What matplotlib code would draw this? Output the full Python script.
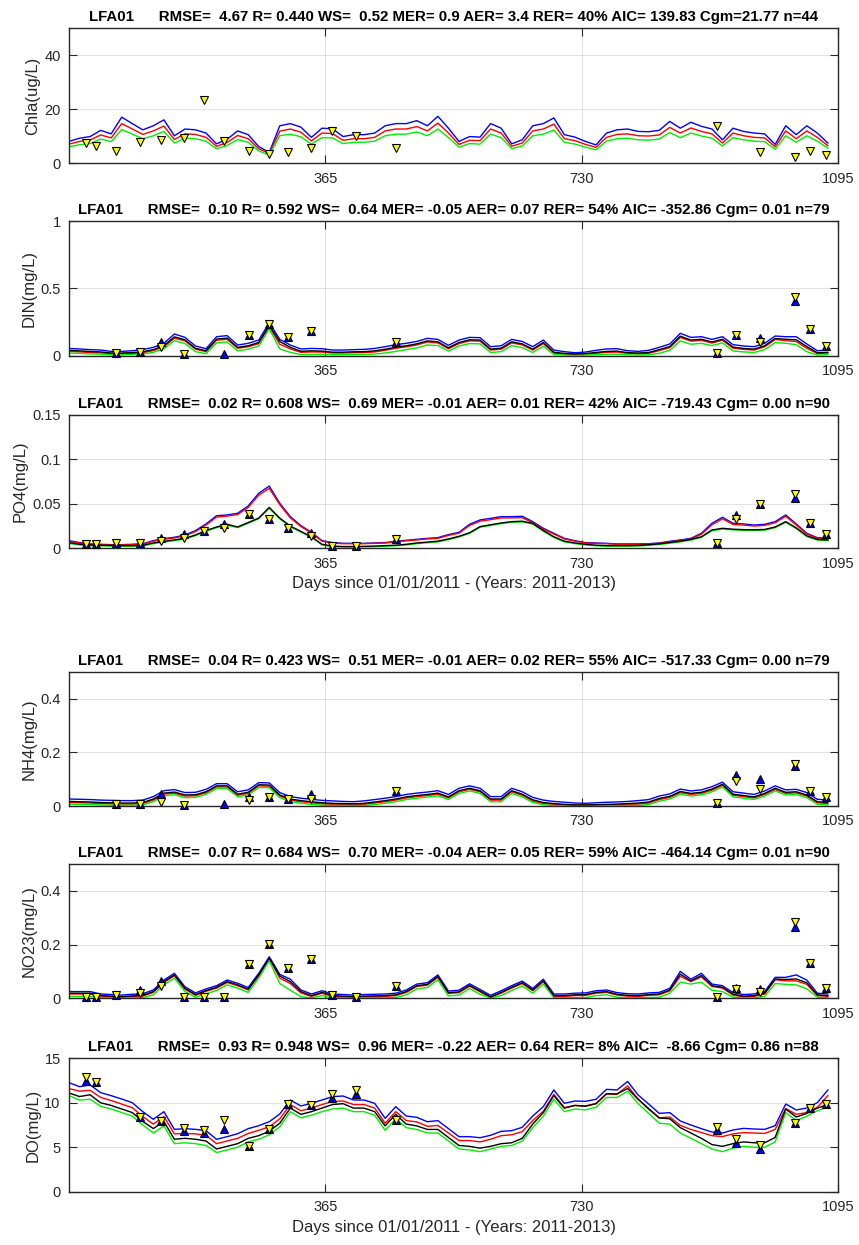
import numpy as np
import matplotlib
matplotlib.use("Agg")
import matplotlib.pyplot as plt
from matplotlib.ticker import FormatStrFormatter

plt.rcParams['font.family'] = ['Liberation Sans', 'DejaVu Sans']

# --- model output, sampled every 15 days (day 0 .. 1080) ---
days = np.arange(0, 1081, 15)

chla_blue = [8.1, 9.3, 9.9, 12.2, 10.9, 17.1, 14.7, 12.4, 13.9, 16.1, 10.2, 12.7, 12.4, 11.2, 7.2, 8.9, 12.0, 10.6, 6.2, 4.0,
             13.9, 14.7, 13.4, 9.6, 13.0, 12.8, 9.9, 10.6, 10.6, 11.2, 13.9, 14.7, 14.7, 15.8, 13.9,
             17.4, 13.0, 8.1, 9.9, 9.7, 14.7, 13.0, 7.2, 8.7, 13.9, 14.7, 16.8, 10.6, 9.7, 8.1, 6.8, 11.2, 12.4, 12.7, 11.8,
             11.7, 12.2, 15.5, 13.0, 15.2, 13.7, 12.7, 8.7, 13.0, 11.8, 11.2, 10.9, 7.0, 13.9, 10.6, 13.9, 11.2, 7.5]
chla_red = [7.1, 8.1, 8.6, 10.5, 9.4, 14.7, 12.7, 10.7, 12.0, 13.8, 8.8, 10.9, 10.7, 9.6, 6.3, 7.7, 10.3, 9.1, 5.4, 3.6,
            11.9, 12.7, 11.5, 8.3, 11.2, 11.0, 8.5, 9.1, 9.1, 9.6, 12.0, 12.7, 12.7, 13.6, 12.0,
            14.9, 11.2, 7.0, 8.5, 8.4, 12.7, 11.2, 6.3, 7.5, 12.0, 12.7, 14.5, 9.1, 8.4, 7.0, 5.9, 9.6, 10.7, 10.9, 10.2,
            10.1, 10.5, 13.3, 11.2, 13.1, 11.8, 10.9, 7.5, 11.2, 10.2, 9.6, 9.4, 6.1, 12.0, 9.1, 12.0, 9.6, 6.5]
chla_green = [6.1, 6.9, 7.3, 9.0, 8.0, 12.5, 10.8, 9.1, 10.2, 11.8, 7.5, 9.3, 9.1, 8.2, 5.4, 6.6, 8.8, 7.8, 4.6, 3.0,
              10.2, 10.8, 9.8, 7.1, 9.5, 9.4, 7.3, 7.8, 7.8, 8.2, 10.2, 10.8, 10.8, 11.6, 10.2,
              12.7, 9.5, 6.0, 7.3, 7.1, 10.8, 9.5, 5.4, 6.4, 10.2, 10.8, 12.3, 7.8, 7.1, 6.0, 5.0, 8.2, 9.1, 9.3, 8.7,
              8.6, 9.0, 11.4, 9.5, 11.2, 10.1, 9.3, 6.4, 9.5, 8.7, 8.2, 8.0, 5.2, 10.2, 7.8, 10.2, 8.2, 5.6]

din_blue = [0.054, 0.050, 0.045, 0.042, 0.032, 0.032, 0.037, 0.045, 0.062, 0.092, 0.161, 0.136, 0.072, 0.052, 0.141,
            0.149, 0.079, 0.092, 0.116, 0.245, 0.121, 0.079, 0.050, 0.054, 0.052, 0.042, 0.042, 0.045, 0.047, 0.054,
            0.067, 0.082, 0.092, 0.106, 0.129,
            0.121, 0.077, 0.116, 0.136, 0.134, 0.067, 0.074, 0.121, 0.106, 0.067, 0.116, 0.042, 0.030, 0.022, 0.027,
            0.040, 0.050, 0.052, 0.037, 0.032, 0.040, 0.062, 0.087, 0.166, 0.136, 0.141, 0.121, 0.141, 0.082, 0.072,
            0.067, 0.092, 0.146, 0.141, 0.141, 0.087, 0.037, 0.042]
din_red = [0.032, 0.028, 0.024, 0.021, 0.014, 0.014, 0.017, 0.022, 0.038, 0.066, 0.130, 0.110, 0.048, 0.030, 0.115,
           0.122, 0.055, 0.066, 0.090, 0.215, 0.085, 0.050, 0.025, 0.028, 0.027, 0.020, 0.020, 0.022, 0.023, 0.028,
           0.040, 0.055, 0.066, 0.080, 0.102,
           0.095, 0.052, 0.090, 0.110, 0.108, 0.042, 0.048, 0.095, 0.080, 0.042, 0.090, 0.020, 0.012, 0.010, 0.012,
           0.018, 0.025, 0.027, 0.017, 0.014, 0.018, 0.038, 0.060, 0.135, 0.108, 0.114, 0.094, 0.115, 0.056, 0.047,
           0.042, 0.066, 0.120, 0.112, 0.105, 0.055, 0.016, 0.020]
din_black = [0.040, 0.036, 0.031, 0.028, 0.020, 0.020, 0.023, 0.029, 0.045, 0.074, 0.140, 0.118, 0.055, 0.037, 0.123,
             0.131, 0.062, 0.074, 0.098, 0.225, 0.105, 0.062, 0.033, 0.036, 0.034, 0.026, 0.026, 0.029, 0.030, 0.036,
             0.048, 0.063, 0.074, 0.088, 0.110,
             0.103, 0.059, 0.098, 0.118, 0.116, 0.049, 0.056, 0.103, 0.088, 0.049, 0.098, 0.026, 0.017, 0.013, 0.016,
             0.024, 0.032, 0.034, 0.023, 0.020, 0.024, 0.045, 0.068, 0.145, 0.116, 0.122, 0.102, 0.122, 0.064, 0.054,
             0.049, 0.074, 0.128, 0.122, 0.118, 0.068, 0.022, 0.025]
din_green = [0.020, 0.017, 0.013, 0.011, 0.006, 0.006, 0.008, 0.012, 0.025, 0.050, 0.112, 0.090, 0.030, 0.015, 0.095,
             0.102, 0.036, 0.048, 0.072, 0.200, 0.050, 0.025, 0.008, 0.010, 0.010, 0.007, 0.007, 0.008, 0.009, 0.012,
             0.020, 0.032, 0.045, 0.058, 0.080,
             0.075, 0.035, 0.072, 0.090, 0.088, 0.024, 0.030, 0.075, 0.060, 0.024, 0.070, 0.008, 0.005, 0.004, 0.005,
             0.007, 0.010, 0.011, 0.006, 0.005, 0.007, 0.018, 0.040, 0.110, 0.085, 0.092, 0.075, 0.095, 0.035, 0.028,
             0.024, 0.045, 0.098, 0.092, 0.082, 0.030, 0.005, 0.008]

po4_blue = [0.0086, 0.0064, 0.0049, 0.0045, 0.0041, 0.0041, 0.0045, 0.0052, 0.0086, 0.0109, 0.0124, 0.0150, 0.0199,
            0.0274, 0.0367, 0.0375, 0.0394, 0.0476, 0.0619, 0.0700, 0.0506, 0.0356, 0.0255, 0.0180, 0.0086, 0.0064,
            0.0056, 0.0056, 0.0056, 0.0060, 0.0064, 0.0079, 0.0090, 0.0101, 0.0112,
            0.0120, 0.0154, 0.0180, 0.0270, 0.0319, 0.0337, 0.0356, 0.0356, 0.0360, 0.0300, 0.0225, 0.0169, 0.0112,
            0.0086, 0.0064, 0.0060, 0.0056, 0.0049, 0.0049, 0.0049, 0.0052, 0.0060, 0.0079, 0.0094, 0.0112, 0.0169,
            0.0281, 0.0349, 0.0281, 0.0274, 0.0262, 0.0270, 0.0300, 0.0375, 0.0274, 0.0169, 0.0120, 0.0112]
po4_red = [0.0078, 0.0058, 0.0044, 0.0040, 0.0037, 0.0037, 0.0040, 0.0047, 0.0079, 0.0101, 0.0116, 0.0141, 0.0188,
           0.0262, 0.0352, 0.0362, 0.0380, 0.0460, 0.0598, 0.0675, 0.0490, 0.0343, 0.0245, 0.0172, 0.0080, 0.0059,
           0.0052, 0.0052, 0.0052, 0.0056, 0.0059, 0.0073, 0.0084, 0.0094, 0.0105,
           0.0112, 0.0145, 0.0170, 0.0257, 0.0305, 0.0322, 0.0342, 0.0342, 0.0345, 0.0287, 0.0215, 0.0160, 0.0105,
           0.0080, 0.0059, 0.0055, 0.0052, 0.0045, 0.0045, 0.0045, 0.0048, 0.0055, 0.0073, 0.0087, 0.0104, 0.0158,
           0.0265, 0.0332, 0.0268, 0.0262, 0.0250, 0.0258, 0.0287, 0.0360, 0.0262, 0.0160, 0.0112, 0.0105]
po4_black = [0.0064, 0.0045, 0.0037, 0.0034, 0.0032, 0.0030, 0.0030, 0.0034, 0.0060, 0.0079, 0.0094, 0.0112, 0.0150,
             0.0200, 0.0240, 0.0270, 0.0240, 0.0290, 0.0340, 0.0460, 0.0340, 0.0250, 0.0190, 0.0131, 0.0045, 0.0025,
             0.0020, 0.0020, 0.0022, 0.0025, 0.0030, 0.0035, 0.0045, 0.0060, 0.0070,
             0.0080, 0.0105, 0.0135, 0.0175, 0.0244, 0.0265, 0.0285, 0.0300, 0.0305, 0.0280, 0.0200, 0.0130, 0.0080,
             0.0060, 0.0045, 0.0035, 0.0030, 0.0030, 0.0030, 0.0032, 0.0040, 0.0050, 0.0065, 0.0080, 0.0100, 0.0130,
             0.0206, 0.0225, 0.0215, 0.0210, 0.0208, 0.0212, 0.0240, 0.0300, 0.0230, 0.0140, 0.0100, 0.0094]
po4_green = [0.0056, 0.0037, 0.0030, 0.0027, 0.0025, 0.0023, 0.0023, 0.0027, 0.0052, 0.0071, 0.0086, 0.0104, 0.0142,
             0.0192, 0.0232, 0.0262, 0.0232, 0.0282, 0.0332, 0.0450, 0.0330, 0.0242, 0.0182, 0.0123, 0.0038, 0.0019,
             0.0015, 0.0015, 0.0017, 0.0019, 0.0023, 0.0028, 0.0037, 0.0052, 0.0062,
             0.0072, 0.0097, 0.0127, 0.0167, 0.0236, 0.0257, 0.0277, 0.0292, 0.0297, 0.0272, 0.0192, 0.0122, 0.0072,
             0.0052, 0.0038, 0.0028, 0.0024, 0.0024, 0.0024, 0.0026, 0.0033, 0.0042, 0.0057, 0.0072, 0.0092, 0.0122,
             0.0198, 0.0217, 0.0207, 0.0202, 0.0200, 0.0204, 0.0232, 0.0292, 0.0222, 0.0132, 0.0092, 0.0086]

nh4_blue = [0.026, 0.025, 0.024, 0.022, 0.021, 0.020, 0.020, 0.022, 0.035, 0.057, 0.061, 0.050, 0.051, 0.062, 0.083,
            0.083, 0.053, 0.060, 0.087, 0.086, 0.050, 0.035, 0.029, 0.025, 0.021, 0.019, 0.017, 0.016, 0.019, 0.024,
            0.029, 0.035, 0.043, 0.048, 0.052,
            0.057, 0.043, 0.066, 0.075, 0.066, 0.035, 0.035, 0.066, 0.053, 0.032, 0.022, 0.017, 0.014, 0.011, 0.010,
            0.012, 0.014, 0.015, 0.017, 0.020, 0.024, 0.037, 0.045, 0.063, 0.056, 0.060, 0.072, 0.089, 0.053, 0.048,
            0.043, 0.056, 0.075, 0.060, 0.062, 0.050, 0.025, 0.022]
nh4_red = [0.013, 0.012, 0.011, 0.009, 0.008, 0.007, 0.007, 0.009, 0.022, 0.044, 0.048, 0.037, 0.038, 0.049, 0.071,
           0.071, 0.040, 0.047, 0.075, 0.074, 0.037, 0.022, 0.016, 0.012, 0.008, 0.006, 0.005, 0.004, 0.006, 0.011,
           0.016, 0.022, 0.030, 0.035, 0.039,
           0.044, 0.030, 0.053, 0.062, 0.053, 0.022, 0.022, 0.053, 0.040, 0.019, 0.009, 0.006, 0.004, 0.003, 0.003,
           0.003, 0.004, 0.005, 0.006, 0.007, 0.011, 0.024, 0.032, 0.050, 0.043, 0.047, 0.059, 0.077, 0.040, 0.035,
           0.030, 0.043, 0.062, 0.047, 0.049, 0.037, 0.012, 0.009]
nh4_black = [0.017, 0.016, 0.015, 0.013, 0.012, 0.011, 0.011, 0.013, 0.026, 0.048, 0.052, 0.041, 0.042, 0.053, 0.075,
             0.075, 0.044, 0.051, 0.079, 0.078, 0.041, 0.026, 0.020, 0.016, 0.012, 0.010, 0.009, 0.008, 0.010, 0.015,
             0.020, 0.026, 0.034, 0.039, 0.043,
             0.048, 0.034, 0.057, 0.066, 0.057, 0.026, 0.026, 0.057, 0.044, 0.023, 0.013, 0.009, 0.006, 0.004, 0.004,
             0.005, 0.006, 0.007, 0.009, 0.011, 0.015, 0.028, 0.036, 0.054, 0.047, 0.051, 0.063, 0.081, 0.044, 0.039,
             0.034, 0.047, 0.066, 0.051, 0.053, 0.041, 0.016, 0.013]
nh4_green = [0.007, 0.006, 0.005, 0.004, 0.003, 0.003, 0.003, 0.004, 0.016, 0.038, 0.042, 0.031, 0.032, 0.043, 0.065,
             0.065, 0.034, 0.041, 0.069, 0.068, 0.031, 0.016, 0.010, 0.006, 0.003, 0.002, 0.002, 0.002, 0.002, 0.005,
             0.010, 0.016, 0.024, 0.029, 0.033,
             0.038, 0.024, 0.047, 0.056, 0.047, 0.016, 0.016, 0.047, 0.034, 0.013, 0.004, 0.002, 0.002, 0.002, 0.002,
             0.002, 0.002, 0.002, 0.002, 0.002, 0.005, 0.018, 0.026, 0.044, 0.037, 0.041, 0.053, 0.071, 0.034, 0.029,
             0.024, 0.037, 0.056, 0.041, 0.043, 0.031, 0.006, 0.004]

no23_blue = [0.025, 0.025, 0.025, 0.016, 0.014, 0.012, 0.015, 0.017, 0.031, 0.068, 0.093, 0.043, 0.020, 0.035, 0.047,
             0.068, 0.056, 0.040, 0.093, 0.155, 0.089, 0.071, 0.031, 0.016, 0.028, 0.016, 0.014, 0.012, 0.014, 0.015,
             0.016, 0.019, 0.031, 0.053, 0.058,
             0.087, 0.027, 0.030, 0.054, 0.033, 0.011, 0.028, 0.047, 0.064, 0.037, 0.071, 0.016, 0.016, 0.019, 0.020,
             0.028, 0.031, 0.021, 0.017, 0.016, 0.020, 0.022, 0.037, 0.100, 0.071, 0.093, 0.053, 0.047, 0.021, 0.014,
             0.016, 0.025, 0.078, 0.078, 0.087, 0.068, 0.019, 0.016]
no23_red = [0.016, 0.016, 0.016, 0.008, 0.006, 0.005, 0.006, 0.008, 0.022, 0.059, 0.084, 0.034, 0.011, 0.026, 0.038,
            0.059, 0.047, 0.031, 0.084, 0.149, 0.075, 0.055, 0.020, 0.007, 0.019, 0.007, 0.006, 0.005, 0.006, 0.006,
            0.007, 0.010, 0.022, 0.044, 0.049,
            0.078, 0.018, 0.021, 0.045, 0.024, 0.004, 0.019, 0.038, 0.055, 0.028, 0.062, 0.007, 0.007, 0.010, 0.011,
            0.019, 0.022, 0.012, 0.008, 0.007, 0.011, 0.013, 0.028, 0.082, 0.062, 0.080, 0.044, 0.038, 0.012, 0.005,
            0.007, 0.016, 0.069, 0.065, 0.065, 0.052, 0.010, 0.007]
no23_black = [0.019, 0.019, 0.019, 0.010, 0.008, 0.006, 0.009, 0.011, 0.025, 0.062, 0.087, 0.037, 0.014, 0.029, 0.041,
              0.062, 0.050, 0.034, 0.087, 0.149, 0.083, 0.062, 0.025, 0.010, 0.022, 0.010, 0.008, 0.006, 0.008, 0.009,
              0.010, 0.013, 0.025, 0.047, 0.052,
              0.081, 0.021, 0.024, 0.048, 0.027, 0.005, 0.022, 0.041, 0.058, 0.031, 0.065, 0.010, 0.010, 0.013, 0.014,
              0.022, 0.025, 0.015, 0.011, 0.010, 0.014, 0.016, 0.031, 0.090, 0.065, 0.085, 0.047, 0.041, 0.015, 0.008,
              0.010, 0.019, 0.072, 0.070, 0.072, 0.058, 0.013, 0.010]
no23_green = [0.007, 0.007, 0.007, 0.002, 0.002, 0.002, 0.002, 0.002, 0.013, 0.050, 0.075, 0.025, 0.004, 0.017, 0.029,
              0.050, 0.038, 0.022, 0.075, 0.140, 0.055, 0.030, 0.006, 0.002, 0.010, 0.002, 0.002, 0.002, 0.002, 0.002,
              0.002, 0.003, 0.013, 0.035, 0.040,
              0.069, 0.009, 0.012, 0.036, 0.015, 0.002, 0.010, 0.029, 0.046, 0.019, 0.053, 0.002, 0.002, 0.002, 0.003,
              0.010, 0.013, 0.004, 0.002, 0.002, 0.003, 0.004, 0.019, 0.060, 0.053, 0.060, 0.030, 0.025, 0.004, 0.002,
              0.002, 0.007, 0.055, 0.052, 0.050, 0.035, 0.004, 0.002]

do_blue = [12.26, 11.81, 12.0, 11.14, 10.80, 10.42, 10.01, 9.0, 8.14, 9.0, 7.01, 7.09, 7.01, 6.86, 5.89, 6.19, 6.52,
           7.09, 7.42, 7.87, 8.74, 10.31, 9.64, 9.94, 10.31, 10.69, 10.76, 10.31, 10.31, 9.94, 8.25, 9.56, 8.51, 8.36, 7.87,
           7.99, 7.09, 6.19, 6.19, 6.07, 6.34, 6.79, 6.86, 7.24, 8.51, 9.56, 11.44, 9.94, 10.20, 10.16, 10.39, 11.51,
           11.44, 12.4, 10.87, 9.86, 8.81, 8.89, 7.95, 7.50, 7.09, 6.71, 6.60, 6.94, 7.12, 7.05, 7.01, 7.42, 9.86, 9.19,
           9.41, 10.01, 11.44]
do_red = [11.6, 11.3, 11.4, 10.6, 10.25, 9.85, 9.45, 8.45, 7.6, 8.45, 6.5, 6.55, 6.5, 6.35, 5.4, 5.7, 6.0, 6.55, 6.9,
          7.3, 8.2, 9.8, 9.1, 9.4, 9.8, 10.15, 10.2, 9.8, 9.8, 9.4, 7.7, 9.0, 8.0, 7.85, 7.35,
          7.45, 6.6, 5.75, 5.75, 5.6, 5.9, 6.3, 6.4, 6.75, 8.0, 9.05, 10.95, 9.45, 9.7, 9.65, 9.9, 11.0, 10.95, 11.9,
          10.4, 9.35, 8.3, 8.4, 7.45, 7.0, 6.65, 6.3, 6.2, 6.5, 6.65, 6.6, 6.55, 7.0, 9.35, 8.7, 8.9, 9.5, 10.8]
do_black = [11.1, 10.7, 10.9, 10.0, 9.7, 9.3, 8.9, 7.9, 7.1, 7.9, 5.9, 6.0, 5.9, 5.7, 4.8, 5.1, 5.4, 6.0, 6.3, 6.8,
            7.7, 9.4, 8.7, 9.0, 9.4, 9.8, 9.9, 9.4, 9.4, 9.0, 7.4, 8.7, 7.6, 7.4, 7.0,
            7.0, 6.1, 5.2, 5.1, 4.9, 5.1, 5.4, 5.5, 6.0, 7.6, 8.9, 10.8, 9.4, 9.7, 9.6, 9.9, 11.0, 11.0, 11.6, 10.4,
            9.3, 8.3, 8.2, 7.2, 6.6, 6.0, 5.3, 5.1, 5.4, 5.6, 5.5, 5.5, 6.1, 9.3, 8.4, 8.8, 9.4, 9.8]
do_green = [10.8, 10.3, 10.4, 9.6, 9.3, 8.9, 8.5, 7.5, 6.6, 7.4, 5.4, 5.5, 5.4, 5.2, 4.4, 4.7, 5.0, 5.6, 5.9, 6.4,
            7.3, 9.0, 8.3, 8.6, 9.0, 9.3, 9.4, 9.0, 9.0, 8.6, 6.9, 8.2, 7.2, 7.0, 6.6,
            6.6, 5.7, 4.8, 4.7, 4.5, 4.8, 5.1, 5.2, 5.7, 7.2, 8.5, 10.4, 9.0, 9.3, 9.2, 9.5, 10.6, 10.6, 11.3, 9.9,
            8.8, 7.7, 7.6, 6.6, 6.0, 5.4, 4.8, 4.5, 4.9, 5.1, 5.0, 5.0, 5.6, 8.9, 8.0, 8.5, 9.1, 9.5]

# --- observations (surface = down triangle, bottom = up triangle) ---
nan = np.nan
obs_days = [24, 39, 67, 101, 131, 164, 192, 220, 256, 284, 311, 345, 375, 409, 466, 922, 949, 983, 1033, 1055, 1077]

chla_surf = [7.5, 6.5, 4.6, 7.9, 8.7, 9.2, 23.6, 8.4, 4.6, 3.5, 4.0, 5.8, 11.9, 10.2, 5.8, 13.7, nan, 4.0, 2.5, 4.7, 3.2]
chla_bot = [nan] * 21

din_surf = [nan, nan, 0.02, 0.03, 0.065, 0.01, nan, nan, 0.15, 0.235, 0.14, 0.18, nan, nan, 0.10, 0.017, 0.15, 0.10,
            0.435, 0.195, 0.075]
din_bot = [nan, nan, 0.02, 0.03, 0.10, 0.01, nan, 0.01, 0.15, 0.235, 0.14, 0.18, nan, nan, 0.10, 0.017, 0.15, 0.13,
           0.405, 0.195, 0.075]

po4_surf = [0.005, 0.005, 0.0056, 0.0056, 0.0086, 0.012, 0.0195, 0.0225, 0.039, 0.033, 0.023, 0.014, 0.003, 0.003,
            0.010, 0.0056, 0.033, 0.050, 0.0615, 0.028, 0.016]
po4_bot = [0.005, 0.005, 0.0056, 0.0056, 0.012, 0.016, 0.0195, 0.027, 0.039, 0.033, 0.023, 0.017, 0.003, 0.003,
           0.010, 0.0056, 0.037, 0.050, 0.057, 0.028, 0.016]

nh4_surf = [nan, nan, 0.0075, 0.006, 0.016, 0.004, nan, nan, 0.022, 0.035, 0.025, 0.025, nan, nan, 0.057, 0.010,
            0.094, 0.062, 0.155, 0.057, 0.035]
nh4_bot = [nan, nan, 0.0075, 0.006, 0.045, 0.004, nan, 0.006, 0.035, 0.035, 0.025, 0.045, nan, nan, 0.057, 0.010,
           0.115, 0.100, 0.149, 0.057, 0.035]

no23_surf = [0.003, 0.003, 0.011, 0.019, 0.047, 0.003, 0.003, 0.003, 0.128, 0.202, 0.114, 0.145, 0.012, 0.003,
             0.047, 0.003, 0.033, 0.025, 0.285, 0.133, 0.040]
no23_bot = [0.003, 0.003, 0.011, 0.031, 0.066, 0.003, 0.003, 0.003, 0.128, 0.202, 0.114, 0.145, 0.012, 0.003,
            0.047, 0.003, 0.037, 0.033, 0.266, 0.133, 0.040]

do_surf = [12.95, 12.3, nan, 8.4, 7.9, 7.2, 6.95, 8.1, 5.1, 7.0, 9.9, 9.75, 11.0, 11.45, 8.1, 7.3, 5.9, 5.25,
           7.75, 9.4, 9.9]
do_bot = [12.5, 12.3, nan, 8.4, 7.9, 6.8, 6.55, 7.0, 5.1, 7.0, 9.9, 9.75, 10.55, 11.0, 8.1, 6.9, 5.5, 4.85,
          7.75, 9.4, 9.9]

titles = [
    "LFA01      RMSE=  4.67 R= 0.440 WS=  0.52 MER= 0.9 AER= 3.4 RER= 40% AIC= 139.83 Cgm=21.77 n=44",
    "LFA01      RMSE=  0.10 R= 0.592 WS=  0.64 MER= -0.05 AER= 0.07 RER= 54% AIC= -352.86 Cgm= 0.01 n=79",
    "LFA01      RMSE=  0.02 R= 0.608 WS=  0.69 MER= -0.01 AER= 0.01 RER= 42% AIC= -719.43 Cgm= 0.00 n=90",
    "LFA01      RMSE=  0.04 R= 0.423 WS=  0.51 MER= -0.01 AER= 0.02 RER= 55% AIC= -517.33 Cgm= 0.00 n=79",
    "LFA01      RMSE=  0.07 R= 0.684 WS=  0.70 MER= -0.04 AER= 0.05 RER= 59% AIC= -464.14 Cgm= 0.01 n=90",
    "LFA01      RMSE=  0.93 R= 0.948 WS=  0.96 MER= -0.22 AER= 0.64 RER= 8% AIC=  -8.66 Cgm= 0.86 n=88",
]
ylabels = ["Chla(ug/L)", "DIN(mg/L)", "PO4(mg/L)", "NH4(mg/L)", "NO23(mg/L)", "DO(mg/L)"]
ylims = [(0, 50), (0, 1), (0, 0.15), (0, 0.5), (0, 0.5), (0, 15)]
yticks = [[0, 20, 40], [0, 0.5, 1], [0, 0.05, 0.1, 0.15], [0, 0.2, 0.4], [0, 0.2, 0.4], [0, 5, 10, 15]]
series = [
    [chla_blue, chla_red, chla_green, None],
    [din_blue, din_red, din_green, din_black],
    [po4_blue, po4_red, po4_green, po4_black],
    [nh4_blue, nh4_red, nh4_green, nh4_black],
    [no23_blue, no23_red, no23_green, no23_black],
    [do_blue, do_red, do_green, do_black],
]
surface = [chla_surf, din_surf, po4_surf, nh4_surf, no23_surf, do_surf]
bottom = [chla_bot, din_bot, po4_bot, nh4_bot, no23_bot, do_bot]
xlabel = "Days since 01/01/2011 - (Years: 2011-2013)"

# axes placement in pixels (top edge, height)
W, H = 859, 1245
tops = [28.3, 221.0, 415.0, 671.7, 864.0, 1058.3]
hgts = [135.0, 134.7, 133.3, 134.3, 134.3, 133.4]
left_px, width_px = 69.0, 769.4

grey = '#262626'
line_cols = ['#0000ff', '#ff0000', '#00ee00', 'black']

fig = plt.figure(figsize=(W / 100, H / 100), dpi=100)

for i in range(6):
    ax = fig.add_axes([left_px / W, 1 - (tops[i] + hgts[i]) / H, width_px / W, hgts[i] / H])
    for s, c in zip(series[i], line_cols):
        if s is not None:
            ax.plot(days, s, color=c, lw=1.0)
    ax.plot(obs_days, bottom[i], '^', ms=6, mfc='#0000ff', mec='black', mew=0.8, clip_on=False, zorder=4)
    ax.plot(obs_days, surface[i], 'v', ms=6, mfc='#ffff00', mec='black', mew=0.8, clip_on=False, zorder=5)

    ax.set_xlim(0, 1095)
    ax.set_ylim(*ylims[i])
    ax.set_xticks([365, 730, 1095])
    ax.set_yticks(yticks[i])
    ax.yaxis.set_major_formatter(FormatStrFormatter('%g'))
    ax.grid(True, color=grey, alpha=0.15, lw=0.6)
    ax.tick_params(direction='in', top=True, right=True, length=5.5, width=0.8,
                   colors=grey, labelsize=10.5, pad=6)
    for sp in ax.spines.values():
        sp.set_color(grey)
        sp.set_linewidth(1.0)
    ax.set_ylabel(ylabels[i], fontsize=12, color=grey, labelpad=3)
    ax.set_title(titles[i], fontsize=10.8, fontweight='bold', pad=5)
    if i in (2, 5):
        ax.set_xlabel(xlabel, fontsize=12, color=grey, labelpad=4)

fig.savefig("out.png", dpi=100)
